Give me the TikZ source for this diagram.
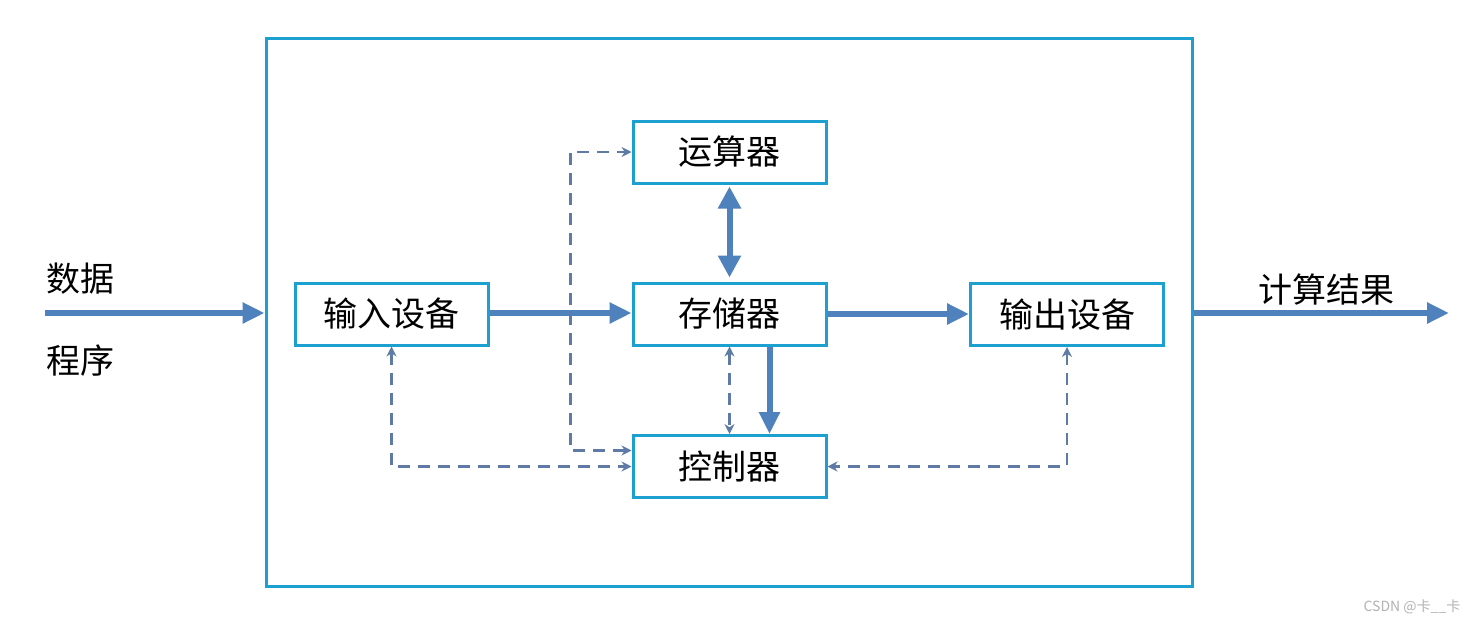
\documentclass[tikz,border=0pt]{standalone}
\usepackage{fontspec}
\setmainfont{Noto Sans CJK SC}
\usetikzlibrary{arrows.meta}
\definecolor{boxc}{RGB}{28,160,208}
\definecolor{arrc}{RGB}{79,129,189}
\definecolor{dshc}{RGB}{95,122,165}
\tikzset{
  blk/.style={draw=boxc, line width=3pt, fill=white, minimum width=193pt, minimum height=62pt, inner sep=0pt, font=\fontsize{34}{36}\selectfont},
  big/.style={draw=arrc, line width=6pt, -{Triangle[length=22pt,width=20pt]}},
  bigboth/.style={draw=arrc, line width=6pt, {Triangle[length=22pt,width=22pt]}-{Triangle[length=22pt,width=22pt]}},
  dsh/.style={draw=dshc, line width=2.6pt, dash pattern=on 12pt off 8pt, {Stealth[length=10pt,width=10pt]}-{Stealth[length=10pt,width=10pt]}},
  lbl/.style={font=\fontsize{34}{36}\selectfont, inner sep=0pt}
}
\begin{document}
\begin{tikzpicture}[x=1pt,y=-1pt]
\useasboundingbox[fill=white] (0,0) rectangle (1475,624);
\node[draw=boxc, line width=3pt, minimum width=926pt, minimum height=548pt, inner sep=0pt] (outer) at (729,312) {};
\node[blk] (alu) at (729.5,152) {运算器};
\node[blk] (mem) at (729.5,314) {存储器};
\node[blk] (ctrl) at (729.5,466.5) {控制器};
\node[blk] (in) at (391.5,314) {输入设备};
\node[blk] (out) at (1067,314.5) {输出设备};
\node[lbl] (data) at (80,279) {数据};
\node[lbl] (prog) at (80,361) {程序};
\node[lbl] (res) at (1326,290) {计算结果};
\node[font=\fontsize{14}{15}\selectfont, text=gray!60, inner sep=0pt] (wm) at (1412,607) {CSDN @卡\_\_卡};
\coordinate (din) at (45,313);
\coordinate (dout) at (1449,313);
% thick arrows
\draw[big] (din) -- (din -| outer.west);
\draw[big] (in.east |- din) -- (mem.west |- din);
\draw[big] (mem.east) -- (out.west |- mem.east);
\draw[big] (outer.east |- dout) -- (dout);
\draw[bigboth, shorten <=2pt, shorten >=4pt] (alu.south) -- (mem.north);
\draw[big] ([xshift=40pt]mem.south) -- ([xshift=40pt]ctrl.north);
% dashed
\draw[dsh] ([yshift=16pt]ctrl.west) -| ([xshift=-61pt]alu.west) -- (alu.west);
\draw[dsh] (in.south) |- (ctrl.west);
\draw[dsh] (out.south) |- (ctrl.east);
\draw[dsh] (mem.south) -- (ctrl.north);
\end{tikzpicture}
\end{document}
